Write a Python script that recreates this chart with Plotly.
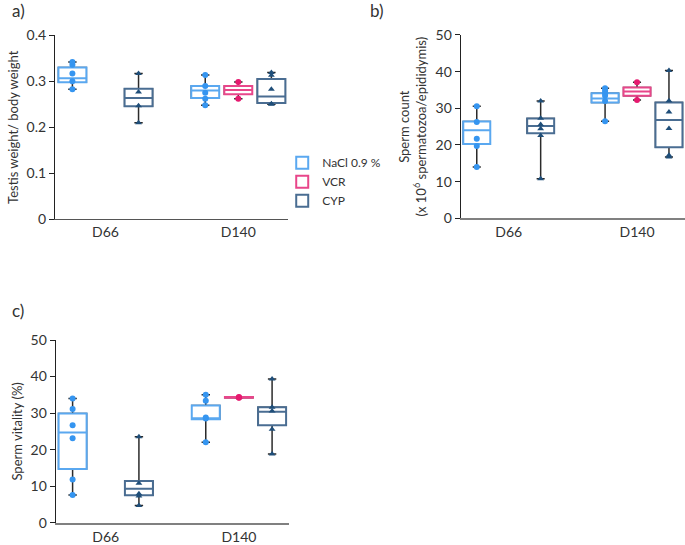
import plotly.graph_objects as go

days = ["D66", "D140"]
group_names = ["NaCl 0.9 %", "VCR", "CYP"]
box_colors = ["#5aa8f0", "#e8468a", "#4a6d92"]
point_colors = ["#3595f0", "#e6196f", "#1f4e79"]
point_symbols = ["circle", "circle", "triangle-up"]

# box stats per day: (lower whisker, q1, median, q3, upper whisker); None = no group that day
# a) testis weight / body weight
tw_nacl_box = [(0.283, 0.298, 0.3065, 0.330, 0.342), (0.248, 0.264, 0.280, 0.290, 0.314)]
tw_vcr_box = [None, (0.262, 0.272, 0.281, 0.290, 0.2985)]
tw_cyp_box = [(0.210, 0.246, 0.264, 0.284, 0.317), (0.250, 0.253, 0.267, 0.305, 0.319)]
tw_nacl_pts = [[0.342, 0.336, 0.317, 0.300, 0.283], [0.314, 0.290, 0.275, 0.262, 0.248]]
tw_vcr_pts = [[], [0.2985, 0.262]]
tw_cyp_pts = [[0.317, 0.277, 0.247, 0.210], [0.319, 0.313, 0.283, 0.251, 0.250]]

# b) sperm count
sc_nacl_box = [(14.0, 20.3, 24.0, 26.4, 30.6), (26.5, 31.6, 32.7, 34.1, 35.5)]
sc_vcr_box = [None, (32.3, 33.4, 34.6, 35.7, 37.1)]
sc_cyp_box = [(10.8, 23.2, 25.2, 27.2, 32.0), (16.7, 19.4, 26.8, 31.6, 40.3)]
sc_nacl_pts = [[30.6, 26.3, 21.7, 19.7, 14.0], [35.5, 34.8, 34.1, 33.4, 32.0, 26.5]]
sc_vcr_pts = [[], [37.1, 32.3]]
sc_cyp_pts = [[32.0, 27.3, 25.6, 24.4, 22.6, 10.8], [40.3, 32.1, 29.0, 24.5, 17.2, 16.7]]

# c) sperm vitality
sv_nacl_box = [(7.6, 14.7, 24.7, 29.9, 34.0), (22.0, 28.3, 28.6, 32.1, 35.0)]
sv_vcr_box = [None, (34.1, 34.2, 34.3, 34.4, 34.5)]
sv_cyp_box = [(4.7, 7.5, 9.3, 11.4, 23.5), (18.8, 26.7, 30.4, 31.6, 39.3)]
sv_nacl_pts = [[34.0, 31.1, 26.7, 23.1, 11.8, 7.6], [35.0, 33.4, 28.8, 28.5, 22.0]]
sv_vcr_pts = [[], [34.3, 34.2, 34.4]]
sv_cyp_pts = [[23.5, 10.8, 7.9, 7.3, 4.7], [39.3, 31.6, 30.6, 25.6, 18.8]]

panels = [
    ("x", "y", [tw_nacl_box, tw_vcr_box, tw_cyp_box], [tw_nacl_pts, tw_vcr_pts, tw_cyp_pts]),
    ("x2", "y2", [sc_nacl_box, sc_vcr_box, sc_cyp_box], [sc_nacl_pts, sc_vcr_pts, sc_cyp_pts]),
    ("x3", "y3", [sv_nacl_box, sv_vcr_box, sv_cyp_box], [sv_nacl_pts, sv_vcr_pts, sv_cyp_pts]),
]

FONT = "Lato, 'Open Sans', sans-serif"
TXT = "#333333"

fig = go.Figure()

for p, (xa, ya, boxes, points) in enumerate(panels):
    for g, name in enumerate(group_names):
        xs = [d for d, b in zip(days, boxes[g]) if b]
        lo, q1, med, q3, hi = zip(*[b for b in boxes[g] if b])
        common = dict(xaxis=xa, yaxis=ya, orientation="v", offsetgroup=name,
                      alignmentgroup=xa, hoverinfo="skip")
        # black whiskers
        fig.add_trace(go.Box(x=xs, lowerfence=lo, q1=q1, median=med, q3=q3, upperfence=hi,
                             line=dict(color="#2b2b2b", width=1.5), fillcolor="white",
                             whiskerwidth=0.3, showlegend=False, name=name, **common))
        # coloured box on top
        fig.add_trace(go.Box(x=xs, lowerfence=q1, q1=q1, median=med, q3=q3, upperfence=q3,
                             line=dict(color=box_colors[g], width=2), fillcolor="white",
                             whiskerwidth=0, name=name, showlegend=(p == 0), **common))
        # individual values
        px, py = [], []
        for d, vals in zip(days, points[g]):
            px += [d] * len(vals)
            py += vals
        fig.add_trace(go.Box(x=px, y=py, boxpoints="all", jitter=0, pointpos=0,
                             marker=dict(color=point_colors[g], size=6, symbol=point_symbols[g]),
                             line=dict(color="rgba(0,0,0,0)", width=0),
                             fillcolor="rgba(0,0,0,0)", whiskerwidth=0, name=name,
                             showlegend=False, **common))

xcommon = dict(type="category", categoryorder="array", categoryarray=days,
               showline=True, ticks="", showgrid=False, zeroline=False, automargin=False,
               tickfont=dict(family=FONT, size=14, color=TXT))
ycommon = dict(showline=True, linecolor="#222222", linewidth=1.2, ticks="outside",
               ticklen=5, tickcolor="#222222", showgrid=False, zeroline=False,
               tickfont=dict(family=FONT, size=14, color=TXT), automargin=False)
tfont = dict(family=FONT, size=13, color=TXT)

fig.update_layout(
    width=685, height=545,
    margin=dict(l=0, r=0, t=0, b=0),
    paper_bgcolor="white", plot_bgcolor="white",
    boxmode="group", boxgap=0.253, boxgroupgap=0.155,
    font=dict(family=FONT, size=12, color=TXT),
    xaxis=dict(domain=[0.0803, 0.4204], range=[-0.38, 1.374], anchor="y",
               linecolor="#555555", linewidth=1.2, **xcommon),
    yaxis=dict(domain=[0.5976, 0.9352], range=[0, 0.4], dtick=0.1, anchor="x",
               title=dict(text="Testis weight/ body weight", standoff=4, font=tfont),
               **ycommon),
    xaxis2=dict(domain=[0.6726, 1.0], range=[-0.374, 1.374], anchor="y2",
                linecolor="#808080", linewidth=2, **xcommon),
    yaxis2=dict(domain=[0.5994, 0.9358], range=[0, 50], dtick=10, anchor="x2",
                title=dict(text="Sperm count<br>(x 10<sup>6</sup> spermatozoa/epididymis)",
                           standoff=6, font=tfont),
                **ycommon),
    xaxis3=dict(domain=[0.0813, 0.4219], range=[-0.376, 1.376], anchor="y3",
                linecolor="#808080", linewidth=2, **xcommon),
    yaxis3=dict(domain=[0.0409, 0.3761], range=[0, 50], dtick=10, anchor="x3",
                title=dict(text="Sperm vitality (%)", standoff=4, font=tfont),
                **ycommon),
    legend=dict(x=0.412, y=0.728, xanchor="left", yanchor="top", tracegroupgap=0,
                bgcolor="rgba(0,0,0,0)", font=dict(family=FONT, size=12, color=TXT)),
)

for label, x, y in [("a)", 10, 10), ("b)", 368, 10), ("c)", 10, 310)]:
    fig.add_annotation(text=label, x=x / 685, y=1 - y / 545, xref="paper", yref="paper",
                       xanchor="left", yanchor="middle", showarrow=False,
                       font=dict(family=FONT, size=17, color=TXT))

# page body has a default 8px margin; drop it so the figure fills the window
fig.write_html("out.html", config={"displayModeBar": False},
               post_script="document.body.style.margin='0';")
